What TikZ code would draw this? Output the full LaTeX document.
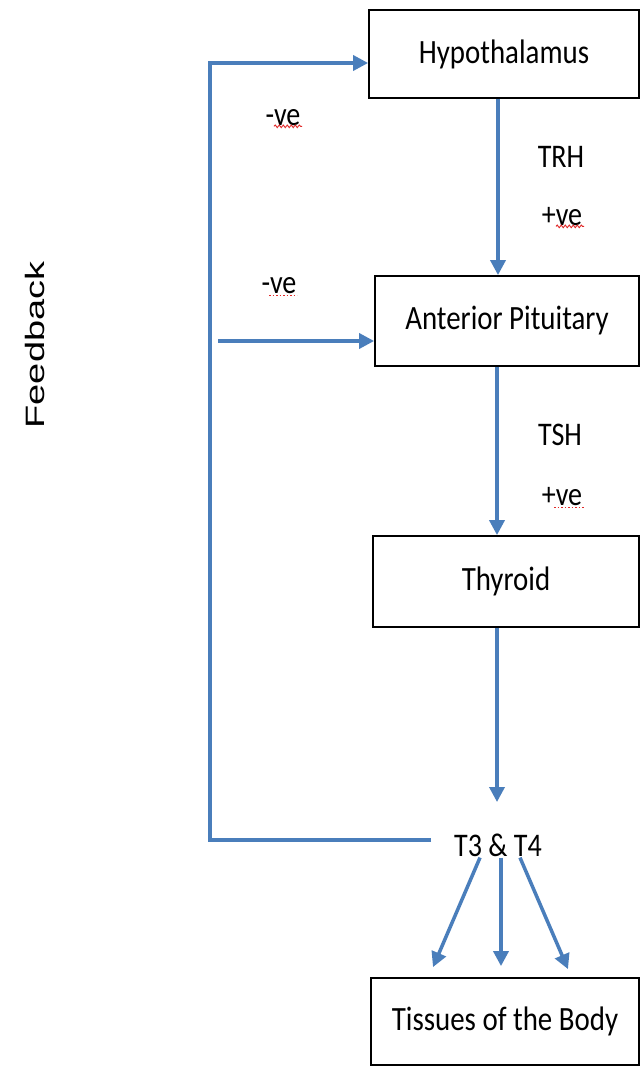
\documentclass[tikz,border=0pt]{standalone}
\usepackage{fontspec}
\usepackage{graphicx}
\setmainfont[FakeStretch=0.85]{Carlito}
\newfontfamily\fbfont{Liberation Sans}
\usetikzlibrary{arrows.meta,decorations.pathmorphing,calc}
\definecolor{flowblue}{RGB}{74,126,187}
\definecolor{spellred}{RGB}{225,40,40}
\begin{document}
\begin{tikzpicture}[x=1pt,y=-1pt,
  box/.style={draw=black,line width=1.8pt,inner sep=0pt,font=\fontsize{34}{40}\selectfont},
  lbl/.style={inner sep=1pt,font=\fontsize{33}{38}\selectfont},
  flow/.style={draw=flowblue,line width=3.5pt,-{Triangle[length=15pt,width=15pt]}},
  wavy/.style={draw=spellred,line width=0.9pt,decorate,decoration={snake,segment length=4pt,amplitude=1.3pt}},
  dotline/.style={draw=spellred,line width=1.2pt,dash pattern=on 1.5pt off 2pt}]
\useasboundingbox (0,0) rectangle (641,1068);
\fill[white] (0,0) rectangle (641,1068);

% boxes
\node[box,minimum width=270pt,minimum height=88pt] (hyp) at (504,54) {Hypothalamus};
\node[box,minimum width=264pt,minimum height=90pt] (ap) at (507,321) {Anterior Pituitary};
\node[box,minimum width=266pt,minimum height=91pt] (thy) at (506,581.5) {Thyroid};
\node[box,minimum width=268pt,minimum height=87pt] (tis) at (505,1021.5) {Tissues of the Body};

% labels
\node[lbl] (neg1) at (283,118) {-ve};
\node[lbl] (trh) at (561,157) {TRH};
\node[lbl] (pos1) at (562,217) {+ve};
\node[lbl] (neg2) at (279,286) {-ve};
\node[lbl] (tsh) at (560,435) {TSH};
\node[lbl] (pos2) at (562,497) {+ve};
\node[lbl] (t3) at (498,845) {T3 \& T4};
\node[rotate=90] (fb) at (35,345) {\fbfont\fontsize{38}{44}\selectfont\scalebox{1}[0.7]{Feedback}};

% spelling marks
\draw[wavy] ($(neg1.south)+(-9,-1)$) -- ($(neg1.south)+(19,-1)$);
\draw[wavy] ($(pos1.south)+(-6,-1)$) -- ($(pos1.south)+(22,-1)$);
\draw[dotline] ($(neg2.south)+(-10,0)$) -- ($(neg2.south)+(18,0)$);
\draw[dotline] ($(pos2.south)+(-8,0)$) -- ($(pos2.south)+(22,0)$);

% main chain
\draw[flow] (498,0 |- hyp.south) -- (498,0 |- ap.north);
\draw[flow] (497,0 |- ap.south) -- (497,0 |- thy.north);
\draw[flow] (497,0 |- thy.south) -- (497,802);

% to tissues
\draw[flow] ($(t3.south)+(-18,0)$) -- ($(tis.north)+(-72,-10)$);
\draw[flow] ($(t3.south)+(3,0)$) -- ($(tis.north)+(-4,-11)$);
\draw[flow] ($(t3.south)+(22,0)$) -- ($(tis.north)+(63,-8)$);

% feedback loop
\coordinate (fbl) at (210,840);
\coordinate (fbt) at (210,63);
\draw[flow] ($(t3.west)+(-22,-5)$) -- (fbl) -- (fbt) -- (hyp.west |- fbt);
\coordinate (fb2) at (218,341);
\draw[flow] (fb2) -- (fb2 -| ap.west);
\end{tikzpicture}
\end{document}
